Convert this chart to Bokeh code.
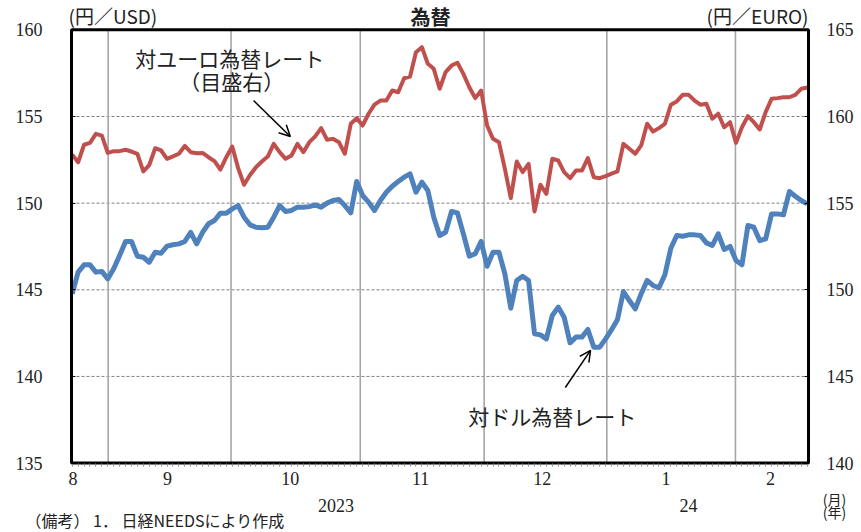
from bokeh.plotting import figure
from bokeh.models import Range1d, LinearAxis, FixedTicker, Label, Arrow, OpenHead, ColumnDataSource
from bokeh.embed import file_html
from bokeh.resources import INLINE

# ---- data (business-day index) ----
day = list(range(125))
usd = [144.77, 146.02, 146.44, 146.44, 146.02, 146.06, 145.63, 146.21, 146.98, 147.79,
       147.79, 146.94, 146.88, 146.59, 147.17, 147.11, 147.52, 147.60, 147.65, 147.79,
       148.32, 147.65, 148.32, 148.81, 149.00, 149.42, 149.42, 149.67, 149.86, 149.19,
       148.75, 148.61, 148.58, 148.61, 149.19, 149.86, 149.52, 149.58, 149.77, 149.77,
       149.80, 149.90, 149.77, 150.00, 150.15, 150.21, 149.86, 149.44, 151.25, 150.44,
       150.06, 149.58, 150.15, 150.63, 150.98, 151.25, 151.50, 151.69, 150.63, 151.21,
       150.73, 149.19, 148.13, 148.32, 149.52, 149.44, 148.23, 146.94, 147.08, 147.79,
       146.36, 147.17, 147.17, 145.92, 143.94, 145.54, 145.78, 145.54, 142.46, 142.40,
       142.17, 143.52, 144.00, 143.42, 141.94, 142.27, 142.27, 142.71, 141.69, 141.69,
       142.17, 142.70, 143.29, 144.90, 144.38, 143.90, 144.77, 145.54, 145.25, 145.12,
       145.87, 147.40, 148.13, 148.09, 148.17, 148.17, 148.13, 147.71, 147.56, 148.23,
       147.33, 147.50, 146.69, 146.44, 148.71, 148.61, 147.84, 147.94, 149.38, 149.38,
       149.33, 150.67, 150.40, 150.15, 149.96]
eur = [157.80, 157.36, 158.37, 158.48, 159.00, 158.90, 157.90, 158.00, 158.00, 158.08,
       157.98, 157.85, 156.83, 157.20, 158.17, 158.04, 157.56, 157.70, 157.85, 158.30,
       157.94, 157.88, 157.90, 157.65, 157.42, 156.94, 157.65, 158.27, 157.02, 156.06,
       156.62, 157.07, 157.40, 157.69, 158.42, 157.94, 157.56, 157.75, 158.42, 157.94,
       158.52, 158.85, 159.33, 158.66, 158.71, 158.52, 157.85, 159.58, 159.90, 159.48,
       160.16, 160.68, 160.92, 160.92, 161.50, 161.40, 162.21, 162.30, 163.71, 164.00,
       163.04, 162.75, 161.60, 162.56, 162.94, 163.10, 162.46, 161.69, 161.06, 161.50,
       159.48, 158.71, 158.52, 156.98, 155.29, 157.40, 156.79, 157.27, 154.52, 156.06,
       155.54, 157.56, 157.46, 156.79, 156.44, 156.88, 156.88, 157.60, 156.50, 156.44,
       156.56, 156.70, 156.83, 158.42, 158.14, 157.85, 158.33, 159.58, 159.13, 159.33,
       159.58, 160.68, 160.87, 161.25, 161.25, 160.92, 160.68, 160.73, 159.87, 160.16,
       159.38, 159.67, 158.48, 159.38, 160.02, 159.67, 159.25, 160.25, 161.02, 161.06,
       161.11, 161.11, 161.25, 161.60, 161.67]

month_labels = ["8", "9", "10", "11", "12", "1", "2"]
year_labels = ["2023", "24"]
left_ticks = [135, 140, 145, 150, 155, 160]
right_ticks = [140, 145, 150, 155, 160, 165]

# ---- layout positions (index / axis units) ----
X0, X1 = -0.118, 124.23          # plot box edges along x
Y0, Y1 = 135.0, 160.0            # plot box edges (left scale)
month_label_pos = [0.13, 16.1, 36.8, 58.8, 79.3, 100.2, 117.8]
month_bound_pos = [6.07, 26.8, 48.6, 69.5, 90.2, 111.9]
year_label_pos = [44.5, 104.0]
hgrid_pos = [140, 145, 150, 155]

NUM_FONT = "Liberation Serif"
JP_FONT = "Noto Sans CJK JP"
TXT = "#222222"

p = figure(width=861, height=532, output_backend="svg", toolbar_location=None,
           x_range=Range1d(-12.097, 133.17), y_range=Range1d(130.995, 161.694),
           min_border=0, x_axis_location=None, y_axis_location=None)
p.outline_line_color = None
p.grid.visible = False
p.background_fill_color = "white"
p.border_fill_color = "white"
p.extra_y_ranges = {"eur": Range1d(135.995, 166.694)}

# grid lines
p.segment(x0=[X0] * len(hgrid_pos), x1=[X1] * len(hgrid_pos), y0=hgrid_pos, y1=hgrid_pos,
          line_color="#808080", line_width=1, line_dash="3 2")
p.segment(x0=month_bound_pos, x1=month_bound_pos, y0=[Y0] * len(month_bound_pos),
          y1=[Y1] * len(month_bound_pos), line_color="#a6a6a6", line_width=1.6)

# series
src = ColumnDataSource(dict(day=day, usd=usd, eur=eur))
p.line("day", "eur", source=src, y_range_name="eur", line_color="#C0504D", line_width=4,
       line_join="round")
p.line("day", "usd", source=src, line_color="#4F81BD", line_width=5, line_join="round")

# plot box
p.quad(left=[X0], right=[X1], bottom=[Y0], top=[Y1], fill_color=None,
       line_color="black", line_width=3)

# axes (fixed at the plot box edges)
la = LinearAxis(ticker=FixedTicker(ticks=left_ticks), fixed_location=X0, bounds=(135, 160))
ra = LinearAxis(y_range_name="eur", ticker=FixedTicker(ticks=right_ticks), fixed_location=X1,
                bounds=(140, 165))
for ax, so in ((la, 29), (ra, 18)):
    ax.axis_line_color = None
    ax.major_tick_in = 4
    ax.major_tick_out = 0
    ax.major_tick_line_color = "black"
    ax.minor_tick_line_color = None
    ax.major_label_standoff = so
    ax.major_label_text_font = NUM_FONT
    ax.major_label_text_font_size = "18px"
    ax.major_label_text_color = TXT
p.add_layout(la, "left")
p.add_layout(ra, "right")

xa = LinearAxis(ticker=FixedTicker(ticks=month_label_pos, minor_ticks=day), fixed_location=Y0,
                bounds=(X0, X1),
                major_label_overrides={pos: lab for pos, lab in zip(month_label_pos, month_labels)})
xa.axis_line_color = None
xa.major_tick_in = 0
xa.major_tick_out = 0
xa.minor_tick_in = 0
xa.minor_tick_out = 3
xa.minor_tick_line_color = "#909090"
xa.major_label_standoff = 6
xa.major_label_text_font = NUM_FONT
xa.major_label_text_font_size = "18px"
xa.major_label_text_color = TXT
p.add_layout(xa, "below")

ya = LinearAxis(ticker=FixedTicker(ticks=year_label_pos), fixed_location=Y0, bounds=(X0, X1),
                major_label_overrides={pos: lab for pos, lab in zip(year_label_pos, year_labels)})
ya.axis_line_color = None
ya.major_tick_in = 0
ya.major_tick_out = 0
ya.major_tick_line_color = None
ya.minor_tick_line_color = None
ya.minor_tick_in = 0
ya.minor_tick_out = 0
ya.major_label_standoff = 36
ya.major_label_text_font = NUM_FONT
ya.major_label_text_font_size = "18px"
ya.major_label_text_color = TXT
p.add_layout(ya, "below")

# texts
def lab(x, y, text, size="21px", align="center", baseline="middle", font=JP_FONT, style="normal"):
    p.add_layout(Label(x=x, y=y, text=text, text_font=font, text_font_size=size,
                       text_align=align, text_baseline=baseline, text_color=TXT,
                       text_font_style=style))

lab(26.6, 158.40, "対ユーロ為替レート")
lab(26.9, 157.02, "（目盛右）")
lab(81.0, 137.69, "対ドル為替レート")
lab(-0.62, 160.83, "(円／USD)", size="19px", align="left")
lab(124.23, 160.83, "(円／EURO)", size="19px", align="right")
lab(128.6, 132.90, "(月)", size="14px")
lab(128.6, 132.15, "(年)", size="14px")
lab(60.46, 160.77, "為替", size="20px", style="bold")
lab(-7.88, 131.745, "（備考） 1． 日経NEEDSにより作成", size="16px", align="left")

p.add_layout(Arrow(x_start=30.6, y_start=155.92, x_end=36.8, y_end=153.85,
                   line_color="black", line_width=1.5,
                   end=OpenHead(size=11, line_color="black", line_width=1.5)))
p.add_layout(Arrow(x_start=83.2, y_start=139.36, x_end=87.45, y_end=141.5,
                   line_color="black", line_width=1.5,
                   end=OpenHead(size=11, line_color="black", line_width=1.5)))

open("out.html", "w").write(file_html(p, INLINE))
